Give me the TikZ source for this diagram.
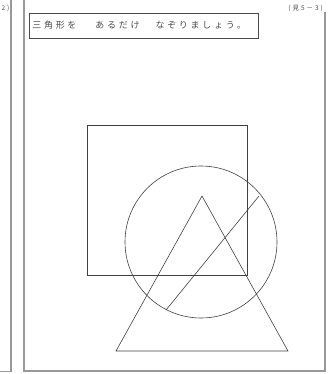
\documentclass[tikz,border=0pt]{standalone}
\usepackage{fontspec}
\newfontfamily\jptitle[LetterSpace=30]{Noto Sans CJK JP}
\begin{document}
\begin{tikzpicture}[
			x=1pt, y=-1pt,
			every node/.style={inner sep=0pt, text=black!70},
			frame/.style={draw=black!40, line width=1.1pt},
			figline/.style={draw=black!75, line width=0.6pt},
			titlebox/.style={rectangle, draw=black!70, line width=0.8pt, minimum height=25pt, text width=223pt, inner xsep=3pt, align=left, font=\jptitle\fontsize{9}{10}\selectfont},
			pagenote/.style={font=\jptitle\fontsize{6.5}{7}\selectfont}
		]
			\useasboundingbox (0,0) rectangle (331,374);

			% page edges
			\draw[frame] (11,0) -- (11,371.5) -- (0,371.5);
			\draw[frame] (24,0) -- (24,371) -- (325,371) -- (325,12);
			\node[pagenote, anchor=east] (prevno) at (9.5,8) {2)};
			\node[pagenote, anchor=east] (pageno) at (323,8) {(見5－3)};

			% task
			\node[titlebox, anchor=west] (title) at (29,25.5) {三角形を\hspace{19pt}あるだけ\hspace{16pt}なぞりましょう。};

			% figures
			\draw[figline] (87,125) rectangle (247,275);
			\draw[figline] (201,242) circle (76);
			\draw[figline] (202,196) -- (288,351) -- (116,351) -- cycle;
			\draw[figline] (259,196) -- (166,310);
		\end{tikzpicture}
\end{document}
